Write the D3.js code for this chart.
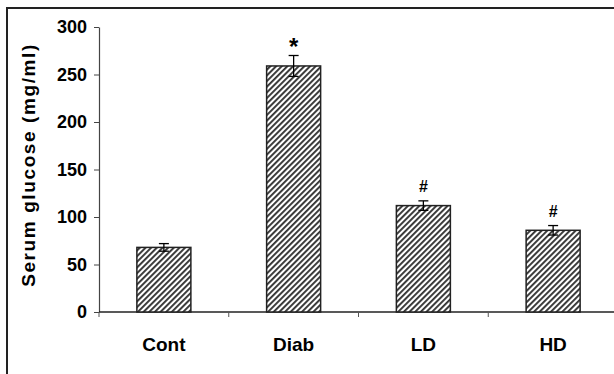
<!DOCTYPE html>
<html>
<head>
<meta charset="utf-8">
<script src="https://cdn.jsdelivr.net/npm/d3@7"></script>
<style>
  html, body { margin: 0; padding: 0; background: #fff; overflow: hidden; }
  svg { display: block; font-family: Arial, "Liberation Sans", sans-serif; }
</style>
</head>
<body>
<svg id="chart" width="614" height="374"></svg>
<script>
const groups = ['Cont', 'Diab', 'LD', 'HD'];
const glucose = [68, 259, 112, 86];
const sem = [4, 11, 5, 5];
const marks = ['', '*', '#', '#'];
const yTicks = [0, 50, 100, 150, 200, 250, 300];

const svg = d3.select('#chart');

const margin = { top: 27, left: 99, bottom: 62 };
const innerWidth = 519;
const innerHeight = 374 - margin.top - margin.bottom;

// hatch fill like the old excel pattern
const defs = svg.append('defs');
const pat = defs.append('pattern')
    .attr('id', 'hatch')
    .attr('patternUnits', 'userSpaceOnUse')
    .attr('width', 4)
    .attr('height', 4)
    .attr('patternTransform', 'rotate(45)');
pat.append('rect').attr('width', 4).attr('height', 4).attr('fill', '#fff');
pat.append('rect').attr('x', 0).attr('width', 1.9).attr('height', 4).attr('fill', '#333');

// outer frame, cut by the window on right and bottom
svg.append('rect')
    .attr('x', 7).attr('y', 8)
    .attr('width', 640).attr('height', 400)
    .attr('fill', 'none')
    .attr('stroke', '#222')
    .attr('stroke-width', 2);

const g = svg.append('g')
    .attr('transform', `translate(${margin.left}, ${margin.top})`);

const xScale = d3.scaleBand()
    .domain(groups)
    .range([0, innerWidth])
    .paddingInner(0)
    .paddingOuter(0);

const yScale = d3.scaleLinear()
    .domain([0, 300])
    .range([innerHeight, 0]);

const barWidth = 54;

// y axis
const yAxis = d3.axisLeft(yScale)
    .tickValues(yTicks)
    .tickSize(5)
    .tickSizeOuter(0)
    .tickPadding(7);

const yAxisG = g.append('g').call(yAxis);
yAxisG.select('.domain').attr('stroke', '#444').attr('stroke-width', 1.2);
yAxisG.selectAll('.tick line').attr('stroke', '#444');
yAxisG.selectAll('.tick text')
    .attr('fill', '#000')
    .style('font-size', '18px')
    .style('font-weight', 'bold');

// x axis: line at 0 with ticks at group boundaries
const xAxisG = g.append('g').attr('transform', `translate(0, ${innerHeight})`);
xAxisG.append('line')
    .attr('x1', 0).attr('x2', innerWidth)
    .attr('stroke', '#222').attr('stroke-width', 1.5);
xAxisG.selectAll('.bound').data(groups)
    .enter().append('line')
    .attr('class', 'bound')
    .attr('x1', d => xScale(d)).attr('x2', d => xScale(d))
    .attr('y1', 0).attr('y2', 5)
    .attr('stroke', '#555');
xAxisG.selectAll('.lab').data(groups)
    .enter().append('text')
    .attr('class', 'lab')
    .attr('x', d => xScale(d) + xScale.bandwidth() / 2)
    .attr('y', 39)
    .attr('text-anchor', 'middle')
    .style('font-size', '19px')
    .style('font-weight', 'bold')
    .text(d => d);

// bars
g.selectAll('.bar').data(groups)
    .enter().append('rect')
    .attr('class', 'bar')
    .attr('x', d => xScale(d) + (xScale.bandwidth() - barWidth) / 2)
    .attr('y', (d, i) => yScale(glucose[i]))
    .attr('width', barWidth)
    .attr('height', (d, i) => innerHeight - yScale(glucose[i]))
    .attr('fill', 'url(#hatch)')
    .attr('stroke', '#222')
    .attr('stroke-width', 1.5);

// error bars
const eb = g.selectAll('.err').data(groups)
    .enter().append('g')
    .attr('class', 'err')
    .attr('transform', d => `translate(${xScale(d) + xScale.bandwidth() / 2}, 0)`);

eb.append('line')
    .attr('y1', (d, i) => yScale(glucose[i] + sem[i]))
    .attr('y2', (d, i) => yScale(glucose[i] - sem[i]))
    .attr('stroke', '#000').attr('stroke-width', 1.3);
eb.append('line')
    .attr('x1', -5).attr('x2', 5)
    .attr('y1', (d, i) => yScale(glucose[i] + sem[i]))
    .attr('y2', (d, i) => yScale(glucose[i] + sem[i]))
    .attr('stroke', '#000').attr('stroke-width', 1.3);
eb.append('line')
    .attr('x1', -5).attr('x2', 5)
    .attr('y1', (d, i) => yScale(glucose[i] - sem[i]))
    .attr('y2', (d, i) => yScale(glucose[i] - sem[i]))
    .attr('stroke', '#000').attr('stroke-width', 1.3);

// significance marks
eb.append('text')
    .attr('text-anchor', 'middle')
    .attr('y', (d, i) => yScale(glucose[i] + sem[i]) - (marks[i] === '*' ? 1 : 9))
    .style('font-size', (d, i) => marks[i] === '*' ? '24px' : '16px')
    .style('font-weight', 'bold')
    .text((d, i) => marks[i]);

// y axis title
svg.append('text')
    .attr('transform', `translate(35, 165) rotate(-90)`)
    .attr('text-anchor', 'middle')
    .style('font-size', '19px')
    .style('font-weight', 'bold')
    .style('letter-spacing', '1.6px')
    .text('Serum glucose (mg/ml)');
</script>
</body>
</html>
